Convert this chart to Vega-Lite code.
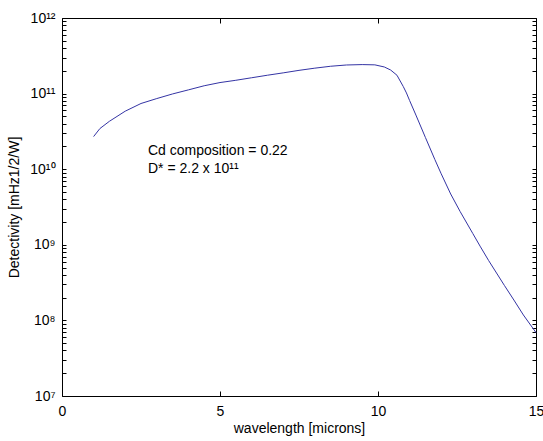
{
  "$schema": "https://vega.github.io/schema/vega-lite/v6.json",
  "width": 474,
  "height": 378,
  "autosize": {"type": "none"},
  "padding": {"left": 62, "top": 18, "right": 7, "bottom": 45},
  "background": "white",
  "config": {
    "font": "Liberation Sans",
    "view": {"stroke": "#000", "strokeWidth": 1},
    "axis": {
      "labelColor": "#000",
      "titleColor": "#000",
      "labelFontSize": 14,
      "titleFontSize": 14,
      "titleFontWeight": "normal",
      "grid": false,
      "domain": false,
      "tickColor": "#000",
      "tickWidth": 1
    }
  },
  "datasets": {
    "curve": [
      {"x": 1.0, "y": 2.7e10},
      {"x": 1.2, "y": 3.45e10},
      {"x": 1.5, "y": 4.3e10},
      {"x": 2.0, "y": 5.85e10},
      {"x": 2.5, "y": 7.4e10},
      {"x": 3.0, "y": 8.6e10},
      {"x": 3.5, "y": 9.9e10},
      {"x": 4.0, "y": 1.12e11},
      {"x": 4.5, "y": 1.27e11},
      {"x": 5.0, "y": 1.40e11},
      {"x": 5.5, "y": 1.50e11},
      {"x": 6.0, "y": 1.62e11},
      {"x": 6.5, "y": 1.75e11},
      {"x": 7.0, "y": 1.88e11},
      {"x": 7.5, "y": 2.03e11},
      {"x": 8.0, "y": 2.17e11},
      {"x": 8.5, "y": 2.3e11},
      {"x": 9.0, "y": 2.39e11},
      {"x": 9.5, "y": 2.42e11},
      {"x": 9.9, "y": 2.4e11},
      {"x": 10.2, "y": 2.25e11},
      {"x": 10.4, "y": 2.05e11},
      {"x": 10.6, "y": 1.75e11},
      {"x": 10.8, "y": 1.24e11},
      {"x": 10.9, "y": 1.02e11},
      {"x": 11.0, "y": 8.1e10},
      {"x": 11.2, "y": 5.2e10},
      {"x": 11.5, "y": 2.63e10},
      {"x": 11.8, "y": 1.34e10},
      {"x": 12.0, "y": 8.7e9},
      {"x": 12.3, "y": 4.7e9},
      {"x": 12.6, "y": 2.75e9},
      {"x": 13.0, "y": 1.41e9},
      {"x": 13.23, "y": 9.6e8},
      {"x": 13.5, "y": 6.2e8},
      {"x": 14.0, "y": 2.9e8},
      {"x": 14.3, "y": 1.86e8},
      {"x": 14.6, "y": 1.18e8},
      {"x": 15.0, "y": 6.9e7}
    ],
    "notes": [
      {"x": 2.72, "y": 1.55e10, "label": "Cd composition = 0.22"},
      {"x": 2.72, "y": 9.0e9, "label": "D* = 2.2 x 10¹¹"}
    ]
  },
  "layer": [
    {
      "data": {"name": "curve"},
      "mark": {"type": "line", "color": "#3434a4", "strokeWidth": 1},
      "encoding": {
        "x": {
          "field": "x", "type": "quantitative",
          "scale": {"domain": [0, 15], "nice": false, "zero": false},
          "axis": {
            "orient": "bottom",
            "title": "wavelength [microns]",
            "values": [0, 5, 10, 15],
            "tickSize": -5,
            "labelPadding": 13,
            "labelFlush": false,
            "labelOverlap": false,
            "titleY": 36,
            "titleBaseline": "alphabetic"
          }
        },
        "y": {
          "field": "y", "type": "quantitative",
          "scale": {"type": "log", "domain": [1e7, 1e12], "nice": false},
          "axis": {
            "orient": "left",
            "title": "Detectivity [mHz1/2/W]",
            "values": [10000000, 20000000, 30000000, 40000000, 50000000, 60000000, 70000000, 80000000, 90000000,
                       100000000, 200000000, 300000000, 400000000, 500000000, 600000000, 700000000, 800000000, 900000000,
                       1000000000, 2000000000, 3000000000, 4000000000, 5000000000, 6000000000, 7000000000, 8000000000, 9000000000,
                       10000000000, 20000000000, 30000000000, 40000000000, 50000000000, 60000000000, 70000000000, 80000000000, 90000000000,
                       100000000000, 200000000000, 300000000000, 400000000000, 500000000000, 600000000000, 700000000000, 800000000000, 900000000000,
                       1000000000000],
            "labelExpr": "datum.value == 1e7 ? '10⁷' : datum.value == 1e8 ? '10⁸' : datum.value == 1e9 ? '10⁹' : datum.value == 1e10 ? '10¹⁰' : datum.value == 1e11 ? '10¹¹' : datum.value == 1e12 ? '10¹²' : ''",
            "tickSize": -4,
            "labelPadding": 11,
            "labelFlush": false,
            "labelOverlap": false,
            "titleX": -48,
            "titleY": 189,
            "titleAngle": -90,
            "titleAlign": "center",
            "titleBaseline": "middle"
          }
        }
      }
    },
    {
      "data": {"name": "notes"},
      "mark": {"type": "text", "align": "left", "baseline": "alphabetic", "fontSize": 14, "color": "#000"},
      "encoding": {
        "x": {
          "field": "x", "type": "quantitative",
          "scale": {"domain": [0, 15], "nice": false, "zero": false},
          "axis": {"orient": "top", "title": null, "labels": false, "values": [0, 5, 10, 15], "tickSize": -5}
        },
        "y": {
          "field": "y", "type": "quantitative",
          "scale": {"type": "log", "domain": [1e7, 1e12], "nice": false},
          "axis": {
            "orient": "right", "title": null, "labels": false, "tickSize": -4,
            "values": [10000000, 20000000, 30000000, 40000000, 50000000, 60000000, 70000000, 80000000, 90000000,
                       100000000, 200000000, 300000000, 400000000, 500000000, 600000000, 700000000, 800000000, 900000000,
                       1000000000, 2000000000, 3000000000, 4000000000, 5000000000, 6000000000, 7000000000, 8000000000, 9000000000,
                       10000000000, 20000000000, 30000000000, 40000000000, 50000000000, 60000000000, 70000000000, 80000000000, 90000000000,
                       100000000000, 200000000000, 300000000000, 400000000000, 500000000000, 600000000000, 700000000000, 800000000000, 900000000000,
                       1000000000000]
          }
        },
        "text": {"field": "label"}
      }
    }
  ],
  "resolve": {"axis": {"x": "independent", "y": "independent"}}
}
